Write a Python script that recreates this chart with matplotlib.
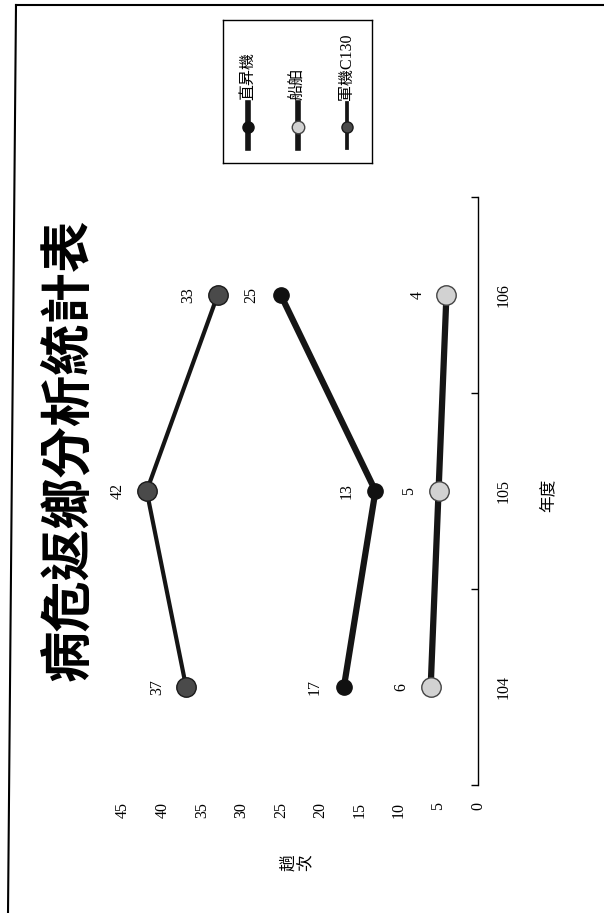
import matplotlib
matplotlib.use("Agg")
import matplotlib.pyplot as plt
from matplotlib.lines import Line2D
import numpy as np

years = ["104", "105", "106"]
heli = [17, 13, 25]      # 直昇機
ship = [6, 5, 4]         # 船舶
c130 = [37, 42, 33]      # 軍機C130
series_names = ["直昇機", "船舶", "軍機C130"]
value_ticks = list(range(0, 50, 5))

SERIF = ["Liberation Serif", "Noto Sans CJK TC"]
CJK = ["Noto Sans CJK TC", "DejaVu Sans"]
W, H = 604, 913


def fx(px):
    return px / W


def fy(py):
    return 1 - py / H


fig = plt.figure(figsize=(W / 100, H / 100), dpi=100)

# chart is drawn rotated 90 degrees: values run leftward, years run upward
ax = fig.add_axes([fx(123), fy(785), fx(478) - fx(123), fy(197) - fy(785)])
pos = np.arange(1, len(years) + 1)

styles = {
    "直昇機": dict(lw=4.5, ms=11, mfc="#111111", mec="#111111"),
    "船舶": dict(lw=4.5, ms=14, mfc="#d2d2d2", mec="#444444"),
    "軍機C130": dict(lw=3, ms=14, mfc="#4a4a4a", mec="#1a1a1a"),
}
data = {"直昇機": heli, "船舶": ship, "軍機C130": c130}

for name in series_names:
    st = styles[name]
    vals = data[name]
    ax.plot(vals, pos, color="#151515", lw=st["lw"], marker="o", ms=st["ms"],
            mfc=st["mfc"], mec=st["mec"], mew=1, zorder=3)
    for v, p in zip(vals, pos):
        ax.annotate(str(v), (v, p), xytext=(-21, 0), textcoords="offset points",
                    rotation=90, ha="center", va="center", fontsize=11.5, family=SERIF)

ax.set_xlim(45, 0)
ax.set_ylim(0.5, len(years) + 0.5)
for s in ["top", "left", "bottom"]:
    ax.spines[s].set_visible(False)
ax.spines["right"].set_linewidth(1)

ax.set_xticks(value_ticks)
ax.set_xticklabels([str(t) for t in value_ticks], rotation=90, family=SERIF, fontsize=11.5)
ax.tick_params(axis="x", length=0, pad=12)

ax.yaxis.tick_right()
ax.set_yticks(pos)
ax.set_yticklabels(years, rotation=90, family=SERIF, fontsize=11.5, va="center")
ax.set_yticks(np.arange(0.5, len(years) + 1, 1), minor=True)
ax.tick_params(axis="y", which="major", length=0, pad=13)
ax.tick_params(axis="y", which="minor", direction="in", length=5, width=1)

# titles
fig.text(fx(68), fy(450), "病危返鄉分析統計表", rotation=90, ha="center", va="center",
         fontsize=37, fontweight="bold", family=CJK)
fig.text(fx(548), fy(495), "年度", rotation=90, ha="center", va="center",
         fontsize=12, family=CJK)
fig.text(fx(297), fy(863), "趟\n次", rotation=90, ha="center", va="center",
         fontsize=12, family=CJK, linespacing=1.0)

# legend, rotated along with the chart
lg = fig.add_axes([fx(223), fy(163), fx(372) - fx(223), fy(20) - fy(163)])
lg.set_xlim(0, 1)
lg.set_ylim(0, 1)
lg.set_xticks([])
lg.set_yticks([])
for s in lg.spines.values():
    s.set_linewidth(1)
legend_x = [0.168, 0.503, 0.832]
legend_ms = {"直昇機": 8, "船舶": 9, "軍機C130": 8}
for name, x in zip(series_names, legend_x):
    st = styles[name]
    lg.plot([x, x], [0.105, 0.42], color="#151515", lw=st["lw"] * 0.9)
    lg.plot([x], [0.25], marker="o", ms=legend_ms[name], mfc=st["mfc"], mec=st["mec"], mew=1)
    lg.text(x, 0.44, name, rotation=90, ha="center", va="bottom", fontsize=11.5, family=SERIF)

# scanned page border
fig.add_artist(Line2D([fx(16), 1.0], [fy(5), fy(5)], transform=fig.transFigure,
                      color="black", lw=1.5))
fig.add_artist(Line2D([fx(16), fx(8)], [fy(5), fy(913)], transform=fig.transFigure,
                      color="black", lw=1.5))

fig.savefig("out.png", dpi=100)
plt.close(fig)
